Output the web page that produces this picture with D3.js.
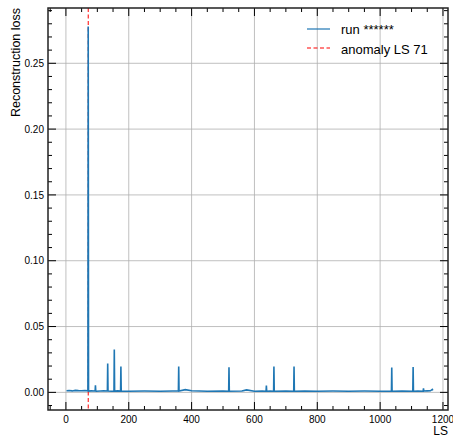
<!doctype html>
<html>
  <head>
    <script src="https://cdn.jsdelivr.net/npm/d3@7"></script>
    <style>
      body { margin: 0; background: #fff; }
      text { font-family: "Liberation Sans", Arial, sans-serif; fill: #000; }
    </style>
  </head>
  <body>
    <svg id="chart" width="453" height="438"></svg>

    <script>
      // lumisection numbers and the loss
      var lsValues = [2, 10, 20, 30, 40, 50, 60, 70, 71, 72, 80, 93, 94, 95, 96, 110, 120,
        132, 133, 134, 145, 153, 154, 155, 165, 174, 175, 176, 200, 250, 300, 340, 358, 359,
        360, 380, 400, 450, 500, 518, 519, 520, 560, 575, 600, 625, 637, 638, 639, 650, 661,
        662, 663, 700, 725, 726, 727, 760, 800, 850, 900, 950, 1000, 1036, 1037, 1038, 1070,
        1104, 1105, 1106, 1120, 1137, 1138, 1139, 1150, 1160, 1166, 1168];
      var lossValues = [0.0012, 0.0014, 0.0011, 0.0015, 0.0013, 0.0012, 0.0014, 0.0012, 0.278, 0.0010, 0.0011, 0.0010, 0.0053, 0.0010, 0.0009, 0.0010, 0.0011,
        0.0010, 0.0220, 0.0010, 0.0009, 0.0010, 0.0325, 0.0010, 0.0011, 0.0010, 0.0196, 0.0010, 0.0009, 0.0010, 0.0009, 0.0010, 0.0010, 0.0196,
        0.0010, 0.0021, 0.0012, 0.0009, 0.0010, 0.0009, 0.0190, 0.0009, 0.0010, 0.0019, 0.0009, 0.0010, 0.0009, 0.0052, 0.0009, 0.0010, 0.0009,
        0.0196, 0.0009, 0.0010, 0.0009, 0.0196, 0.0009, 0.0010, 0.0009, 0.0010, 0.0009, 0.0010, 0.0009, 0.0009, 0.0188, 0.0009, 0.0010,
        0.0009, 0.0193, 0.0009, 0.0010, 0.0009, 0.0030, 0.0010, 0.0011, 0.0012, 0.0022, 0.0015];

      var anomalyLS = 71;
      var xMajorTicks = [0, 200, 400, 600, 800, 1000, 1200];
      var yMajorTicks = [0.00, 0.05, 0.10, 0.15, 0.20, 0.25];
      var legendLabels = ["run ******", "anomaly LS 71"];

      var blue = "#1f77b4";
      var red = "#ff0000";

      var mLeft = 48, mRight = 448, mTop = 8, mBottom = 410;
      var svg = d3.select("#chart");

      var x = d3.scaleLinear().domain([-57, 1216]).range([mLeft, mRight]);
      var y = d3.scaleLinear().domain([-0.0134, 0.292]).range([mBottom, mTop]);

      var xMinor = d3.range(-50, 1216, 50).filter(function(v) { return v % 200 !== 0; });
      var yMinor = d3.range(-1, 30, 1).filter(function(v) { return v % 5 !== 0; })
        .map(function(v) { return v / 100; });

      // grid
      var grid = svg.append("g").attr("stroke", "#b0b0b0").attr("stroke-width", 0.8);
      grid.selectAll(".gx").data(xMajorTicks).enter().append("line")
        .attr("x1", function(d) { return x(d); }).attr("x2", function(d) { return x(d); })
        .attr("y1", mTop).attr("y2", mBottom);
      grid.selectAll(".gy").data(yMajorTicks).enter().append("line")
        .attr("y1", function(d) { return y(d); }).attr("y2", function(d) { return y(d); })
        .attr("x1", mLeft).attr("x2", mRight);

      // anomaly marker (drawn under the series)
      svg.append("line")
        .attr("x1", x(anomalyLS)).attr("x2", x(anomalyLS))
        .attr("y1", mTop).attr("y2", mBottom)
        .attr("stroke", red).attr("stroke-width", 1)
        .attr("stroke-dasharray", "4,2.5");

      // series
      var pts = lsValues.map(function(d, i) { return [d, lossValues[i]]; });
      var line = d3.line().x(function(d) { return x(d[0]); }).y(function(d) { return y(d[1]); });
      svg.append("path").datum(pts)
        .attr("fill", "none").attr("stroke", blue).attr("stroke-width", 1.6)
        .attr("stroke-linejoin", "miter").attr("d", line);

      // axes: ticks inward on all four sides
      var axes = svg.append("g").attr("stroke", "#000");
      function xTicks(vals, len) {
        vals.forEach(function(v) {
          axes.append("line").attr("x1", x(v)).attr("x2", x(v))
            .attr("y1", mBottom).attr("y2", mBottom - len).attr("stroke-width", 1);
          axes.append("line").attr("x1", x(v)).attr("x2", x(v))
            .attr("y1", mTop).attr("y2", mTop + len).attr("stroke-width", 1);
        });
      }
      function yTicks(vals, len) {
        vals.forEach(function(v) {
          axes.append("line").attr("y1", y(v)).attr("y2", y(v))
            .attr("x1", mLeft).attr("x2", mLeft + len).attr("stroke-width", 1);
          axes.append("line").attr("y1", y(v)).attr("y2", y(v))
            .attr("x1", mRight).attr("x2", mRight - len).attr("stroke-width", 1);
        });
      }
      xTicks(xMajorTicks, 8); xTicks(xMinor, 4);
      yTicks(yMajorTicks, 8); yTicks(yMinor, 4);

      svg.append("rect")
        .attr("x", mLeft).attr("y", mTop).attr("width", mRight - mLeft).attr("height", mBottom - mTop)
        .attr("fill", "none").attr("stroke", "#222").attr("stroke-width", 1.5);

      // tick labels
      svg.selectAll(".xl").data(xMajorTicks).enter().append("text")
        .attr("x", function(d) { return x(d); }).attr("y", 423)
        .attr("text-anchor", "middle").attr("font-size", 10)
        .text(function(d) { return d; });
      svg.selectAll(".yl").data(yMajorTicks).enter().append("text")
        .attr("x", 44).attr("y", function(d) { return y(d) + 3.6; })
        .attr("text-anchor", "end").attr("font-size", 10)
        .text(function(d) { return d.toFixed(2); });

      // axis labels
      svg.append("text")
        .attr("transform", "translate(20," + mTop + ") rotate(-90)")
        .attr("text-anchor", "end").attr("font-size", 12.5)
        .text("Reconstruction loss");
      svg.append("text")
        .attr("x", mRight).attr("y", 435)
        .attr("text-anchor", "end").attr("font-size", 12)
        .text("LS");

      // legend
      var legend = svg.append("g");
      legend.append("line").attr("x1", 307).attr("x2", 330).attr("y1", 29).attr("y2", 29)
        .attr("stroke", blue).attr("stroke-width", 1.2);
      legend.append("line").attr("x1", 307).attr("x2", 330).attr("y1", 48).attr("y2", 48)
        .attr("stroke", red).attr("stroke-width", 1.2).attr("stroke-dasharray", "4,2.5");
      legend.selectAll(".lt").data(legendLabels).enter().append("text")
        .attr("x", 341).attr("y", function(d, i) { return 34 + i * 19.5; })
        .attr("font-size", 13)
        .text(function(d) { return d; });
    </script>
  </body>
</html>
